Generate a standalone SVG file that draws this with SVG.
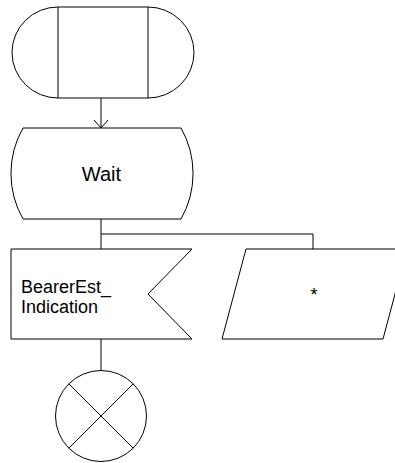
<svg xmlns="http://www.w3.org/2000/svg" width="395" height="463" viewBox="0 0 395 463">
<style>
.s{fill:none;stroke:#000;stroke-width:1}
.f{fill:#fff;stroke:#000;stroke-width:1}
text{font-family:"Liberation Sans",Arial,sans-serif;fill:#000}
</style>
<rect width="395" height="463" fill="#fff"/>
<g id="connectors">
<line class="s" x1="101" y1="98" x2="101" y2="128"/>
<polyline class="s" points="94,120 101,128 108,120"/>
<line class="s" x1="101" y1="219" x2="101" y2="249"/>
<polyline class="s" points="101,234 313,234 313,249"/>
<line class="s" x1="101" y1="339" x2="101" y2="370.5"/>
</g>
<g id="start">
<path class="f" d="M58,7 H148 A46,45.5 0 0 1 148,98 H58 A46,45.5 0 0 1 58,7 Z"/>
<line class="s" x1="58" y1="7" x2="58" y2="98"/>
<line class="s" x1="148" y1="7" x2="148" y2="98"/>
</g>
<g id="wait">
<path class="f" d="M23,128 H181 A92,92 0 0 1 181,219 H23 A92,92 0 0 1 23,128 Z"/>
<text x="101.5" y="181" font-size="20" text-anchor="middle">Wait</text>
</g>
<g id="input">
<polygon class="f" points="11,249 192,249 148,294 192,339 11,339"/>
<text x="21" y="293" font-size="18">BearerEst_</text>
<text x="21" y="313" font-size="18">Indication</text>
</g>
<g id="asterisk">
<polygon class="f" points="246,249 407,249 383,339 222,339"/>
<text x="314" y="301" font-size="18" text-anchor="middle">*</text>
</g>
<g id="stop">
<circle class="f" cx="101" cy="416" r="45.5"/>
<line class="s" x1="68.8" y1="383.8" x2="133.2" y2="448.2"/>
<line class="s" x1="133.2" y1="383.8" x2="68.8" y2="448.2"/>
</g>
</svg>
